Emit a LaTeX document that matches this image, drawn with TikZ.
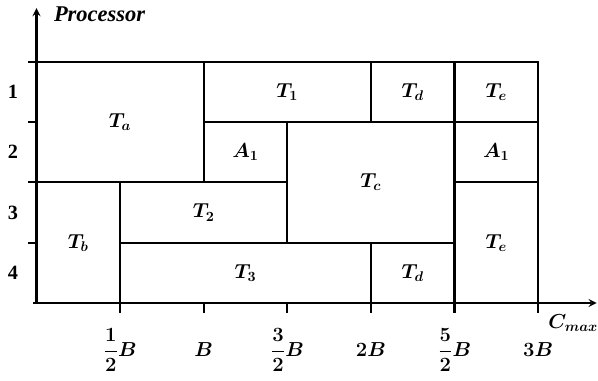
\documentclass[tikz,border=0pt]{standalone}
\usepackage{amsmath}
\usepackage{bm}
\usepackage{fontspec}
\setmainfont{Liberation Serif}
\usetikzlibrary{arrows}
\tikzstyle{task} = [
    rectangle,
    draw=black,
    line width=1.5pt,
    inner sep=0pt,
    font=\Large
]
\tikzstyle{axis} = [line width=1.5pt,->,>=stealth]
\tikzstyle{tick} = [line width=1.5pt]
\tikzstyle{ticklabel} = [font=\Large]
\tikzstyle{rowlabel} = [font=\Large\bfseries]
\def\hb{2.09cm}
\def\rh{1.5075cm}

\begin{document}
\begin{tikzpicture}[x=\hb, y=\rh]
\useasboundingbox (-0.4366,-1.277) rectangle (6.7165,5.025);

% tasks on the four processors
\node (Ta) [task, minimum width=2*\hb, minimum height=2*\rh] at (1,3) {$\bm{T_a}$};
\node (T1) [task, minimum width=2*\hb, minimum height=\rh] at (3,3.5) {$\bm{T_1}$};
\node (Td1) [task, minimum width=\hb, minimum height=\rh] at (4.5,3.5) {$\bm{T_d}$};
\node (Te1) [task, minimum width=\hb, minimum height=\rh] at (5.5,3.5) {$\bm{T_e}$};
\node (A1a) [task, minimum width=\hb, minimum height=\rh] at (2.5,2.5) {$\bm{A_1}$};
\node (Tc) [task, minimum width=2*\hb, minimum height=2*\rh] at (4,2) {$\bm{T_c}$};
\node (A1b) [task, minimum width=\hb, minimum height=\rh] at (5.5,2.5) {$\bm{A_1}$};
\node (Tb) [task, minimum width=\hb, minimum height=2*\rh] at (0.5,1) {$\bm{T_b}$};
\node (T2) [task, minimum width=2*\hb, minimum height=\rh] at (2,1.5) {$\bm{T_2}$};
\node (T3) [task, minimum width=3*\hb, minimum height=\rh] at (2.5,0.5) {$\bm{T_3}$};
\node (Td2) [task, minimum width=\hb, minimum height=\rh] at (4.5,0.5) {$\bm{T_d}$};
\node (Te2) [task, minimum width=\hb, minimum height=2*\rh] at (5.5,1) {$\bm{T_e}$};

% axes
\coordinate (origin) at (0,0);
\coordinate (xstart) at (-0.04,0);
\coordinate (ytop) at (0,4.89);
\coordinate (xend) at (6.70,0);
\draw [axis] (origin) -- (ytop);
\draw [axis] (xstart) -- (xend);

\node (ylabel) [anchor=west, font=\fontsize{16}{18}\selectfont\bfseries\itshape] at (0.15,4.79) {Processor};
\node (xlabel) [ticklabel] at (6.42,-0.33) {$\bm{C_{max}}$};

% processor ticks and labels
\foreach \y in {1,2,3,4}
    \draw [tick] (-0.096,\y) -- (0,\y);
\foreach \p/\y in {1/3.5, 2/2.5, 3/1.5, 4/0.5}
    \node (p\p) [rowlabel] at (-0.281,\y) {\p};

% time ticks and labels
\foreach \x in {1,...,6}
    \draw [tick] (\x,0) -- (\x,-0.166);
\node (t1) [ticklabel] at (1,-0.78) {$\bm{\dfrac{1}{2}B}$};
\node (t2) [ticklabel] at (2,-0.78) {$\bm{B}$};
\node (t3) [ticklabel] at (3,-0.78) {$\bm{\dfrac{3}{2}B}$};
\node (t4) [ticklabel] at (4,-0.78) {$\bm{2B}$};
\node (t5) [ticklabel] at (5,-0.78) {$\bm{\dfrac{5}{2}B}$};
\node (t6) [ticklabel] at (6,-0.78) {$\bm{3B}$};

\end{tikzpicture}
\end{document}
